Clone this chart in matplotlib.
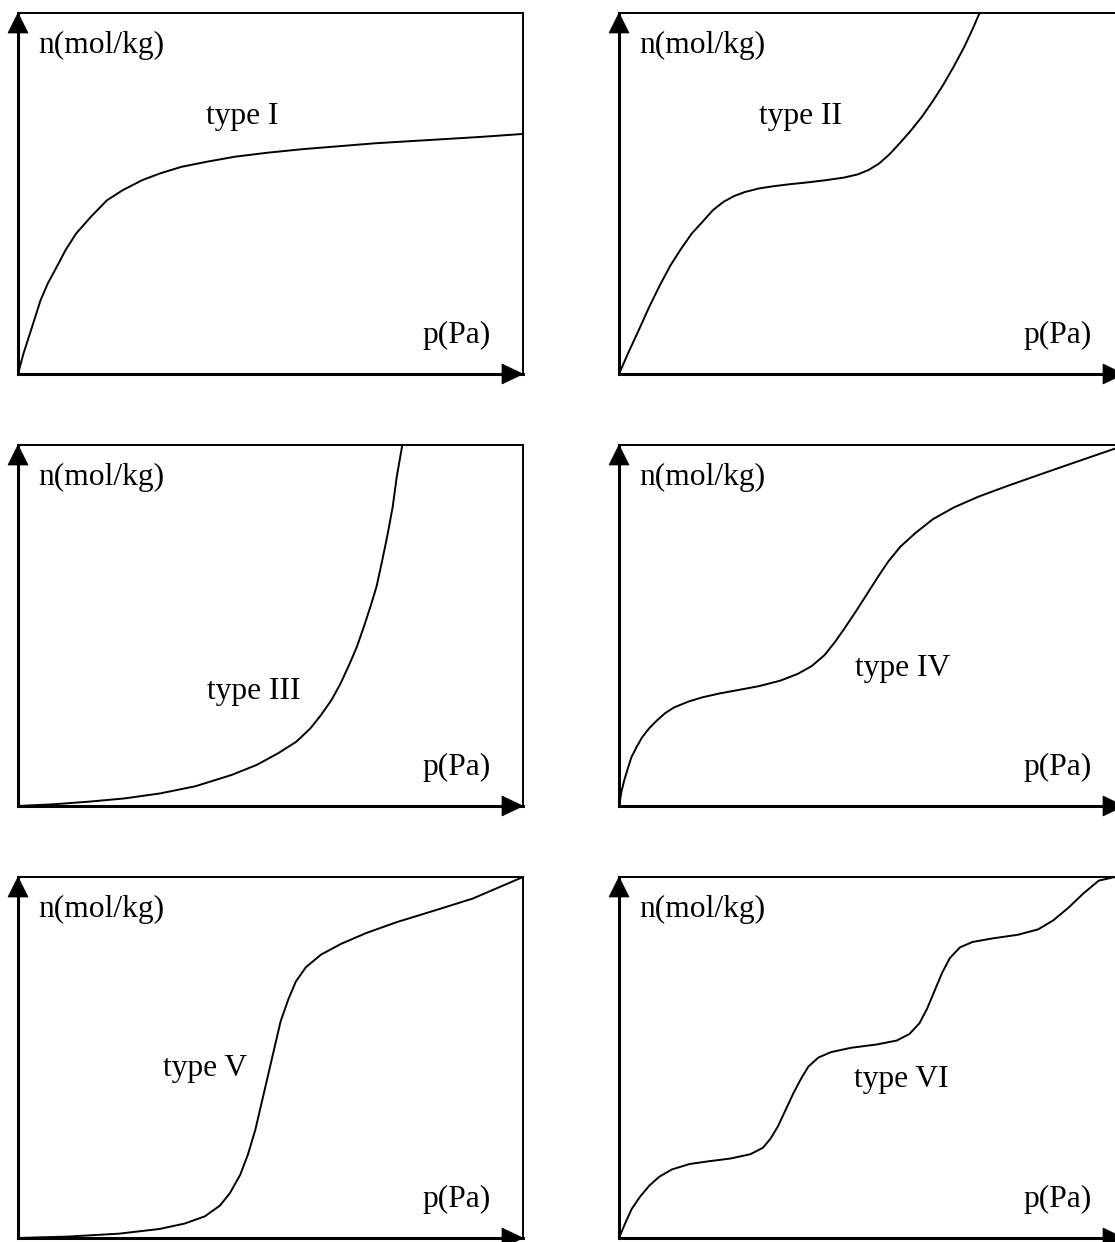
import matplotlib
matplotlib.use("Agg")
import matplotlib.pyplot as plt
from matplotlib.patches import Polygon

# ---- data: pressure (fraction of axis) vs amount adsorbed (fraction of axis)
type1_p = [0, 0.0106, 0.0234, 0.0446, 0.0587, 0.0764, 0.0941, 0.115, 0.144, 0.176, 0.207, 0.246, 0.282, 0.324, 0.374, 0.430, 0.494, 0.565, 0.636, 0.706, 0.777, 0.848, 0.919, 1.0]
type1_n = [0, 0.0556, 0.111, 0.204, 0.25, 0.296, 0.343, 0.389, 0.435, 0.481, 0.509, 0.537, 0.556, 0.574, 0.588, 0.602, 0.613, 0.623, 0.631, 0.639, 0.645, 0.651, 0.657, 0.665]

type2_p = [0, 0.0175, 0.0386, 0.0596, 0.0806, 0.102, 0.123, 0.144, 0.165, 0.186, 0.207, 0.228, 0.249, 0.277, 0.305, 0.340, 0.375, 0.410, 0.445, 0.473, 0.494, 0.515, 0.536, 0.557, 0.579, 0.600, 0.621, 0.642, 0.663, 0.684, 0.701, 0.714]
type2_n = [0, 0.056, 0.120, 0.185, 0.245, 0.301, 0.347, 0.389, 0.421, 0.454, 0.477, 0.493, 0.504, 0.514, 0.520, 0.526, 0.531, 0.537, 0.544, 0.553, 0.565, 0.583, 0.609, 0.641, 0.676, 0.713, 0.755, 0.801, 0.852, 0.907, 0.958, 1.0]

type3_p = [0, 0.069, 0.140, 0.211, 0.282, 0.352, 0.423, 0.473, 0.515, 0.551, 0.579, 0.600, 0.621, 0.639, 0.657, 0.671, 0.685, 0.699, 0.710, 0.720, 0.731, 0.742, 0.750, 0.761]
type3_n = [0, 0.0046, 0.012, 0.021, 0.035, 0.055, 0.086, 0.114, 0.146, 0.178, 0.215, 0.252, 0.294, 0.340, 0.395, 0.441, 0.497, 0.557, 0.608, 0.672, 0.746, 0.829, 0.912, 1.0]

type4_p = [0, 0.0049, 0.0105, 0.0175, 0.0245, 0.0351, 0.0456, 0.0596, 0.0736, 0.0912, 0.109, 0.137, 0.165, 0.200, 0.235, 0.277, 0.319, 0.354, 0.382, 0.407, 0.428, 0.449, 0.470, 0.491, 0.512, 0.533, 0.557, 0.586, 0.621, 0.663, 0.712, 0.768, 0.831, 0.901, 0.984, 1.0]
type4_n = [0, 0.040, 0.072, 0.104, 0.135, 0.164, 0.190, 0.215, 0.235, 0.257, 0.273, 0.289, 0.301, 0.312, 0.321, 0.332, 0.347, 0.366, 0.388, 0.418, 0.455, 0.497, 0.541, 0.587, 0.633, 0.677, 0.718, 0.755, 0.794, 0.827, 0.857, 0.886, 0.917, 0.951, 0.991, 0.997]

type5_p = [0, 0.10, 0.20, 0.28, 0.33, 0.37, 0.40, 0.42, 0.44, 0.455, 0.47, 0.48, 0.49, 0.50, 0.51, 0.52, 0.535, 0.55, 0.57, 0.60, 0.64, 0.69, 0.75, 0.82, 0.90, 1.0]
type5_n = [0, 0.004, 0.012, 0.025, 0.040, 0.060, 0.090, 0.125, 0.175, 0.23, 0.30, 0.36, 0.42, 0.48, 0.54, 0.60, 0.66, 0.71, 0.75, 0.785, 0.815, 0.845, 0.875, 0.905, 0.94, 1.0]

type6_p = [0, 0.012, 0.025, 0.042, 0.06, 0.08, 0.105, 0.14, 0.18, 0.22, 0.26, 0.285, 0.30, 0.315, 0.33, 0.345, 0.36, 0.375, 0.395, 0.42, 0.46, 0.51, 0.55, 0.575, 0.595, 0.61, 0.625, 0.64, 0.655, 0.675, 0.70, 0.74, 0.79, 0.83, 0.86, 0.89, 0.92, 0.95, 0.982]
type6_n = [0, 0.04, 0.08, 0.115, 0.145, 0.17, 0.19, 0.205, 0.213, 0.22, 0.232, 0.25, 0.275, 0.31, 0.355, 0.40, 0.44, 0.475, 0.50, 0.515, 0.527, 0.536, 0.547, 0.565, 0.595, 0.635, 0.685, 0.735, 0.775, 0.805, 0.82, 0.83, 0.84, 0.855, 0.88, 0.915, 0.955, 0.99, 1.0]

type_labels = ["type I", "type II", "type III", "type IV", "type V", "type VI"]
label_pos = [(0.444, 0.713), (0.360, 0.713), (0.466, 0.317), (0.562, 0.381), (0.37, 0.47), (0.56, 0.44)]
y_label = "n(mol/kg)"
x_label = "p(Pa)"

curves = [(type1_p, type1_n), (type2_p, type2_n), (type3_p, type3_n),
          (type4_p, type4_n), (type5_p, type5_n), (type6_p, type6_n)]

W, H = 1115, 1242
fig = plt.figure(figsize=(W / 100, H / 100), dpi=100)
fig.patch.set_facecolor("white")

box_w, box_h = 505, 361
lefts = [18, 619]
tops = [13, 445, 877]
font = dict(family=["Liberation Serif", "DejaVu Serif"], size=22.7, color="black")

for i, (px, ny) in enumerate(curves):
    r, c = divmod(i, 2)
    l, t = lefts[c], tops[r]
    ax = fig.add_axes([l / W, 1 - (t + box_h) / H, box_w / W, box_h / H])
    ax.set_xlim(0, 1)
    ax.set_ylim(0, 1)
    ax.set_xticks([])
    ax.set_yticks([])
    ax.patch.set_alpha(0)
    for s in ["top", "right"]:
        ax.spines[s].set_linewidth(1.4)
    for s in ["left", "bottom"]:
        ax.spines[s].set_linewidth(2.2)
        ax.spines[s].set_zorder(3)
    ax.plot(px, ny, color="black", lw=1.4, solid_joinstyle="round", solid_capstyle="round", clip_on=False)
    # arrow heads
    ax_len = 21 / box_w
    ax_hw = 10 / box_h
    ax.add_patch(Polygon([[1, 0], [1 - ax_len, ax_hw], [1 - ax_len, -ax_hw]],
                         closed=True, facecolor="black", edgecolor="black", lw=0.5, clip_on=False, zorder=4))
    ay_len = 20 / box_h
    ay_hw = 10 / box_w
    ax.add_patch(Polygon([[0, 1], [-ay_hw, 1 - ay_len], [ay_hw, 1 - ay_len]],
                         closed=True, facecolor="black", edgecolor="black", lw=0.5, clip_on=False, zorder=4))
    ax.text(0.04, 0.909, y_label, ha="left", va="center", **font)
    ax.text(0.937, 0.108, x_label, ha="right", va="center", **font)
    lx, ly = label_pos[i]
    ax.text(lx, ly, type_labels[i], ha="center", va="center", **font)

fig.savefig("out.png", dpi=100, facecolor="white")
